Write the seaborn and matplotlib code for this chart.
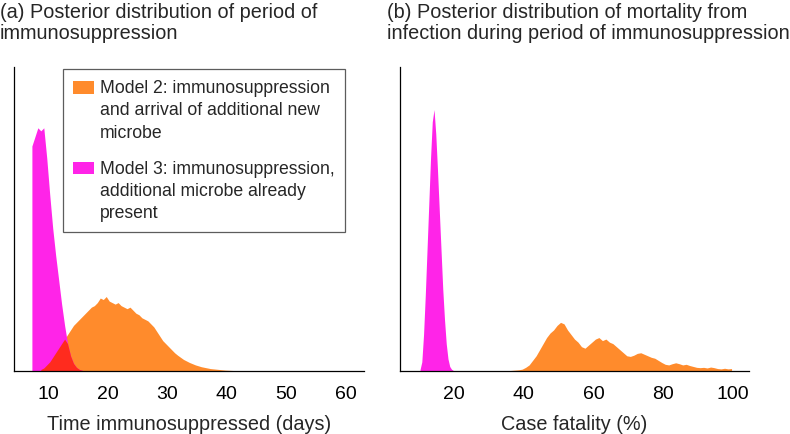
import numpy as np
import pandas as pd
import seaborn as sns
import matplotlib.pyplot as plt
from matplotlib.patches import Patch, Rectangle
from matplotlib.legend_handler import HandlerPatch

# ---- data (histogram heights, arbitrary density units) ----
# (a) time immunosuppressed, 0.5 day bins (left edges)
m3_time_start = 7.0
m3_time = [0.74, 0.77, 0.80, 0.79, 0.80, 0.70, 0.58, 0.47, 0.38, 0.30,
           0.22, 0.15, 0.09, 0.05, 0.025, 0.012, 0.005, 0.002]
m2_time_start = 8.5
m2_time = [0.005, 0.01, 0.02, 0.03, 0.045, 0.06, 0.075, 0.09, 0.105, 0.12,
           0.135, 0.15, 0.16, 0.17, 0.18, 0.19, 0.20, 0.21, 0.215, 0.225,
           0.24, 0.235, 0.245, 0.23, 0.225, 0.22, 0.225, 0.215, 0.21, 0.205,
           0.21, 0.20, 0.19, 0.185, 0.175, 0.17, 0.165, 0.155, 0.145, 0.13,
           0.115, 0.10, 0.09, 0.08, 0.07, 0.06, 0.052, 0.045, 0.038, 0.033,
           0.028, 0.024, 0.02, 0.017, 0.014, 0.012, 0.01, 0.008, 0.007, 0.006,
           0.005, 0.004, 0.003, 0.0025, 0.002, 0.0015, 0.001, 0.0005]
time_bin = 0.5

# (b) case fatality (%)
m3_cfr_start = 10.0
m3_cfr = [0.005, 0.03, 0.12, 0.25, 0.40, 0.55, 0.70, 0.82, 0.86, 0.78,
          0.66, 0.53, 0.40, 0.27, 0.17, 0.09, 0.04, 0.015, 0.006, 0.002]
m3_cfr_bin = 0.5
m2_cfr_start = 35.0
m2_cfr = [0.001, 0.002, 0.003, 0.004, 0.006, 0.012, 0.02, 0.035, 0.05, 0.07,
          0.09, 0.11, 0.125, 0.135, 0.15, 0.16, 0.155, 0.135, 0.12, 0.105,
          0.095, 0.08, 0.075, 0.085, 0.095, 0.105, 0.11, 0.10, 0.105, 0.095,
          0.09, 0.08, 0.07, 0.06, 0.05, 0.048, 0.052, 0.058, 0.06, 0.055,
          0.05, 0.045, 0.042, 0.035, 0.028, 0.022, 0.02, 0.024, 0.027, 0.024,
          0.02, 0.022, 0.018, 0.015, 0.012, 0.011, 0.012, 0.01, 0.013, 0.011,
          0.008, 0.007, 0.009, 0.007, 0.008]
m2_cfr_bin = 1.0

time_ticks = [10, 20, 30, 40, 50, 60]
cfr_ticks = [20, 40, 60, 80, 100]

label_m2 = "Model 2: immunosuppression\nand arrival of additional new\nmicrobe"
label_m3 = "Model 3: immunosuppression,\nadditional microbe already\npresent"

orange = "#ff8b2c"
magenta = "#ff24e8"
red = "#ff2b1e"

sns.set_style("white")
plt.rcParams["font.family"] = ["Liberation Sans", "DejaVu Sans"]
plt.rcParams["font.size"] = 14


def series(start, width, vals):
    idx = np.round(start + width * np.arange(len(vals)), 3)
    return pd.Series(vals, index=idx)


def draw_hist(ax, s, width, color):
    df = pd.DataFrame({"x": s.index.values + width / 2, "w": s.values})
    edges = np.append(s.index.values, s.index.values[-1] + width)
    sns.histplot(data=df, x="x", weights="w", bins=list(edges), ax=ax,
                 element="poly", fill=True, linewidth=0, alpha=1,
                 color=color)


class TopPatch(HandlerPatch):
    # legend swatch aligned with the first line of a 3-line label
    def create_artists(self, legend, orig_handle, xdescent, ydescent,
                       width, height, fontsize, trans):
        r = Rectangle((-xdescent, -ydescent + 1.3 * fontsize), width, height,
                      facecolor=orig_handle.get_facecolor(), edgecolor="none",
                      transform=trans)
        return [r]


fig = plt.figure(figsize=(7.9, 4.35), dpi=100)
ax1 = fig.add_axes([14 / 790, 1 - 372 / 435, 350 / 790, 304 / 435])
ax2 = fig.add_axes([400 / 790, 1 - 372 / 435, 349 / 790, 304 / 435])

s_m2 = series(m2_time_start, time_bin, m2_time)
s_m3 = series(m3_time_start, time_bin, m3_time)
both = pd.concat([s_m2, s_m3], axis=1).fillna(0)
overlap = both.min(axis=1)
overlap = overlap[overlap > 0]

draw_hist(ax1, s_m2, time_bin, orange)
draw_hist(ax1, s_m3, time_bin, magenta)
draw_hist(ax1, overlap, time_bin, red)

draw_hist(ax2, series(m2_cfr_start, m2_cfr_bin, m2_cfr), m2_cfr_bin, orange)
draw_hist(ax2, series(m3_cfr_start, m3_cfr_bin, m3_cfr), m3_cfr_bin, magenta)

ax1.set_xlim(4.24, 63.1)
ax2.set_xlim(4.5, 104.5)
for ax, ticks in ((ax1, time_ticks), (ax2, cfr_ticks)):
    ax.set_ylim(0, 1.0)
    ax.set_xticks(ticks)
    ax.set_yticks([])
    ax.set_ylabel("")
    ax.tick_params(axis="x", direction="in", length=3, width=0.8,
                   colors="black", pad=10, labelsize=14)
    sns.despine(ax=ax)
    for sp in ("left", "bottom"):
        ax.spines[sp].set_color("black")
        ax.spines[sp].set_linewidth(0.9)

ax1.set_xlabel("Time immunosuppressed (days)", fontsize=14.3, labelpad=9)
ax2.set_xlabel("Case fatality (%)", fontsize=14.3, labelpad=9)

handles = [Patch(facecolor=orange, edgecolor="none", label=label_m2),
           Patch(facecolor=magenta, edgecolor="none", label=label_m3)]
leg = ax1.legend(handles=handles, loc="upper left",
                 bbox_to_anchor=(0.1396, 0.995), fontsize=12.7,
                 frameon=True, fancybox=False, handlelength=1.15,
                 handleheight=0.75, handletextpad=0.35, labelspacing=1.1,
                 borderpad=0.6, borderaxespad=0,
                 handler_map={Patch: TopPatch()})
leg.get_frame().set_edgecolor("#333333")
leg.get_frame().set_linewidth(0.9)
for t in leg.get_texts():
    t.set_linespacing(1.4)

fig.text(0.0, 1 - 3 / 435, "(a) Posterior distribution of period of\nimmunosuppression",
         ha="left", va="top", fontsize=14.3, linespacing=1.15)
fig.text(387 / 790, 1 - 3 / 435,
         "(b) Posterior distribution of mortality from\ninfection during period of immunosuppression",
         ha="left", va="top", fontsize=14.3, linespacing=1.15)

fig.savefig("out.png", dpi=100)
